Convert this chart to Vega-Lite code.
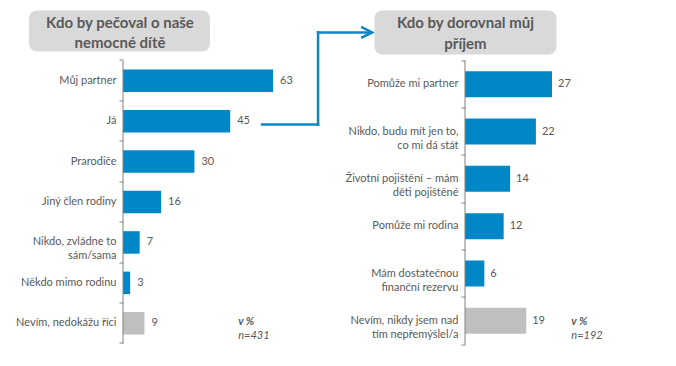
{
  "$schema": "https://vega.github.io/schema/vega-lite/v6.json",
  "padding": {"left": 0, "top": 4.5, "right": 0, "bottom": 0},
  "bounds": "flush",
  "spacing": 166,
  "background": "#ffffff",
  "config": {"view": {"stroke": null}, "font": "Lato", "text": {"font": "Lato"}},
  "hconcat": [
    {
      "width": 176,
      "height": 334,
      "data": {"values": [
        {"answer": "Můj partner", "percent": 63, "group": "odpověď"},
        {"answer": "Já", "percent": 45, "group": "odpověď"},
        {"answer": "Prarodiče", "percent": 30, "group": "odpověď"},
        {"answer": "Jiný člen rodiny", "percent": 16, "group": "odpověď"},
        {"answer": "Nikdo, zvládne to|sám/sama", "percent": 7, "group": "odpověď"},
        {"answer": "Někdo mimo rodinu", "percent": 3, "group": "odpověď"},
        {"answer": "Nevím, nedokážu říci", "percent": 9, "group": "neví"}
      ]},
      "layer": [
        {
          "mark": {"type": "bar", "height": 22.5},
          "encoding": {
            "y": {
              "field": "answer", "type": "nominal", "sort": null,
              "scale": {
                "domain": ["Kdo by pečoval o naše|nemocné dítě", "Můj partner", "Já", "Prarodiče", "Jiný člen rodiny", "Nikdo, zvládne to|sám/sama", "Někdo mimo rodinu", "Nevím, nedokážu říci"],
                "paddingInner": 0, "paddingOuter": 0.1307, "align": 0.905
              },
              "axis": {
                "title": null,
                "values": ["Můj partner", "Já", "Prarodiče", "Jiný člen rodiny", "Nikdo, zvládne to|sám/sama", "Někdo mimo rodinu", "Nevím, nedokážu říci"],
                "domain": false,
                "ticks": true,
                "tickSize": 4,
                "tickColor": "#808080",
                "bandPosition": 1,
                "tickExtra": true,
                "labelExpr": "split(datum.label, '|')",
                "labelFont": "Lato",
                "labelFontSize": 11,
                "labelColor": "#595959",
                "labelLineHeight": 14,
                "labelLimit": 200,
                "labelAlign": "right",
                "labelPadding": 3,
                "minExtent": 123
              }
            },
            "x": {"field": "percent", "type": "quantitative", "scale": {"domain": [0, 73.9], "nice": false}, "axis": null},
            "color": {"field": "group", "type": "nominal", "scale": {"domain": ["odpověď", "neví"], "range": ["#0087C8", "#BFBFBF"]}, "legend": null}
          }
        },
        {
          "mark": {"type": "text", "align": "left", "baseline": "middle", "dx": 7, "fontSize": 11, "color": "#595959"},
          "encoding": {
            "y": {"field": "answer", "type": "nominal", "sort": null},
            "x": {"field": "percent", "type": "quantitative"},
            "text": {"field": "percent"}
          }
        },
        {
          "data": {"values": [{"answer": "Kdo by pečoval o naše|nemocné dítě"}]},
          "mark": {"type": "bar", "height": 41, "yOffset": -9.3, "cornerRadius": 8, "color": "#D9D9D9"},
          "encoding": {
            "y": {"field": "answer", "type": "nominal", "sort": null},
            "x": {"datum": -39.5},
            "x2": {"datum": 36.5}
          }
        },
        {
          "data": {"values": [{"answer": "Kdo by pečoval o naše|nemocné dítě"}]},
          "mark": {"type": "text", "lineBreak": "|", "lineHeight": 20, "fontSize": 15, "fontWeight": "bold", "color": "#595959", "align": "center", "baseline": "middle", "yOffset": -17},
          "encoding": {
            "y": {"field": "answer", "type": "nominal", "sort": null},
            "x": {"datum": -1.26},
            "text": {"field": "answer"}
          }
        },
        {
          "data": {"values": [{"answer": "Můj partner", "last": "Nevím, nedokážu říci"}]},
          "mark": {"type": "rule", "color": "#808080", "strokeWidth": 1, "yOffset": -20.2, "y2Offset": 20.2},
          "encoding": {
            "x": {"datum": 0},
            "y": {"field": "answer", "type": "nominal", "sort": null},
            "y2": {"field": "last"}
          }
        },
        {
          "data": {"values": [{"answer": "Já"}]},
          "mark": {"type": "rule", "color": "#0A86C8", "strokeWidth": 2.5, "strokeCap": "square", "yOffset": 3.4},
          "encoding": {
            "x": {"datum": 58.4},
            "x2": {"datum": 81.9},
            "y": {"field": "answer", "type": "nominal", "sort": null}
          }
        },
        {
          "data": {"values": [{"answer": "Kdo by pečoval o naše|nemocné dítě", "target": "Já"}]},
          "mark": {"type": "rule", "color": "#0A86C8", "strokeWidth": 2.5, "strokeCap": "square", "yOffset": -7.8, "y2Offset": 3.4},
          "encoding": {
            "x": {"datum": 81.9},
            "y": {"field": "answer", "type": "nominal", "sort": null},
            "y2": {"field": "target"}
          }
        },
        {
          "data": {"values": [{"answer": "Kdo by pečoval o naše|nemocné dítě"}]},
          "mark": {"type": "rule", "color": "#0A86C8", "strokeWidth": 2.5, "strokeCap": "square", "yOffset": -7.8},
          "encoding": {
            "x": {"datum": 81.9},
            "x2": {"datum": 104.3},
            "y": {"field": "answer", "type": "nominal", "sort": null}
          }
        },
        {
          "data": {"values": [{"answer": "Kdo by pečoval o naše|nemocné dítě"}]},
          "mark": {"type": "point", "shape": "M-1,-0.5L0,0L-1,0.5", "size": 484, "filled": false, "stroke": "#0A86C8", "strokeWidth": 2.5, "opacity": 1, "yOffset": -7.8},
          "encoding": {
            "x": {"datum": 104.6},
            "y": {"field": "answer", "type": "nominal", "sort": null}
          }
        },
        {
          "data": {"values": [{"unit": "v %", "n": "n=431", "answer": "Nevím, nedokážu říci"}]},
          "mark": {"type": "text", "align": "left", "baseline": "middle", "fontSize": 11, "fontStyle": "italic", "fontWeight": "bold", "color": "#595959", "yOffset": -1},
          "encoding": {
            "x": {"datum": 48.4},
            "y": {"field": "answer", "type": "nominal", "sort": null},
            "text": {"field": "unit"}
          }
        },
        {
          "data": {"values": [{"unit": "v %", "n": "n=431", "answer": "Nevím, nedokážu říci"}]},
          "mark": {"type": "text", "align": "left", "baseline": "middle", "fontSize": 11, "fontStyle": "italic", "color": "#595959", "yOffset": 13},
          "encoding": {
            "x": {"datum": 48.4},
            "y": {"field": "answer", "type": "nominal", "sort": null},
            "text": {"field": "n"}
          }
        }
      ]
    },
    {
      "width": 200,
      "height": 334,
      "data": {"values": [
        {"answer": "Pomůže mi partner", "percent": 27, "group": "odpověď"},
        {"answer": "Nikdo, budu mít jen to,|co mi dá stát", "percent": 22, "group": "odpověď"},
        {"answer": "Životní pojištění – mám|děti pojištěné", "percent": 14, "group": "odpověď"},
        {"answer": "Pomůže mi rodina", "percent": 12, "group": "odpověď"},
        {"answer": "Mám dostatečnou|finanční rezervu", "percent": 6, "group": "odpověď"},
        {"answer": "Nevím, nikdy jsem nad|tím nepřemýšlel/a", "percent": 19, "group": "neví"}
      ]},
      "layer": [
        {
          "mark": {"type": "bar", "height": 26},
          "encoding": {
            "y": {
              "field": "answer", "type": "nominal", "sort": null,
              "scale": {
                "domain": ["Kdo by dorovnal můj|příjem", "Pomůže mi partner", "Nikdo, budu mít jen to,|co mi dá stát", "Životní pojištění – mám|děti pojištěné", "Pomůže mi rodina", "Mám dostatečnou|finanční rezervu", "Nevím, nikdy jsem nad|tím nepřemýšlel/a"],
                "paddingInner": 0, "paddingOuter": 0.0282, "align": 1
              },
              "axis": {
                "title": null,
                "values": ["Pomůže mi partner", "Nikdo, budu mít jen to,|co mi dá stát", "Životní pojištění – mám|děti pojištěné", "Pomůže mi rodina", "Mám dostatečnou|finanční rezervu", "Nevím, nikdy jsem nad|tím nepřemýšlel/a"],
                "domain": false,
                "ticks": true,
                "tickSize": 4,
                "tickColor": "#808080",
                "bandPosition": 1,
                "tickExtra": true,
                "labelExpr": "split(datum.label, '|')",
                "labelFont": "Lato",
                "labelFontSize": 11,
                "labelColor": "#595959",
                "labelLineHeight": 14,
                "labelLimit": 200,
                "labelAlign": "right",
                "labelPadding": 3
              }
            },
            "x": {"field": "percent", "type": "quantitative", "scale": {"domain": [0, 62.07], "nice": false}, "axis": null},
            "color": {"field": "group", "type": "nominal", "scale": {"domain": ["odpověď", "neví"], "range": ["#0087C8", "#BFBFBF"]}, "legend": null}
          }
        },
        {
          "mark": {"type": "text", "align": "left", "baseline": "middle", "dx": 6, "fontSize": 11, "color": "#595959"},
          "encoding": {
            "y": {"field": "answer", "type": "nominal", "sort": null},
            "x": {"field": "percent", "type": "quantitative"},
            "text": {"field": "percent"}
          }
        },
        {
          "data": {"values": [{"answer": "Kdo by dorovnal můj|příjem"}]},
          "mark": {"type": "bar", "height": 44, "yOffset": -4.3, "cornerRadius": 8, "color": "#D9D9D9"},
          "encoding": {
            "y": {"field": "answer", "type": "nominal", "sort": null},
            "x": {"datum": -28.1},
            "x2": {"datum": 28.4}
          }
        },
        {
          "data": {"values": [{"answer": "Kdo by dorovnal můj|příjem"}]},
          "mark": {"type": "text", "lineBreak": "|", "lineHeight": 21, "fontSize": 15, "fontWeight": "bold", "color": "#595959", "align": "center", "baseline": "middle", "yOffset": -13.8},
          "encoding": {
            "y": {"field": "answer", "type": "nominal", "sort": null},
            "x": {"datum": 0.15},
            "text": {"field": "answer"}
          }
        },
        {
          "data": {"values": [{"answer": "Pomůže mi partner", "last": "Nevím, nikdy jsem nad|tím nepřemýšlel/a"}]},
          "mark": {"type": "rule", "color": "#808080", "strokeWidth": 1, "yOffset": -23.7, "y2Offset": 23.7},
          "encoding": {
            "x": {"datum": 0},
            "y": {"field": "answer", "type": "nominal", "sort": null},
            "y2": {"field": "last"}
          }
        },
        {
          "data": {"values": [{"unit": "v %", "n": "n=192", "answer": "Nevím, nikdy jsem nad|tím nepřemýšlel/a"}]},
          "mark": {"type": "text", "align": "left", "baseline": "middle", "fontSize": 11, "fontStyle": "italic", "fontWeight": "bold", "color": "#595959", "yOffset": 1.4},
          "encoding": {
            "x": {"datum": 33.0},
            "y": {"field": "answer", "type": "nominal", "sort": null},
            "text": {"field": "unit"}
          }
        },
        {
          "data": {"values": [{"unit": "v %", "n": "n=192", "answer": "Nevím, nikdy jsem nad|tím nepřemýšlel/a"}]},
          "mark": {"type": "text", "align": "left", "baseline": "middle", "fontSize": 11, "fontStyle": "italic", "color": "#595959", "yOffset": 15.4},
          "encoding": {
            "x": {"datum": 33.0},
            "y": {"field": "answer", "type": "nominal", "sort": null},
            "text": {"field": "n"}
          }
        }
      ]
    }
  ]
}
